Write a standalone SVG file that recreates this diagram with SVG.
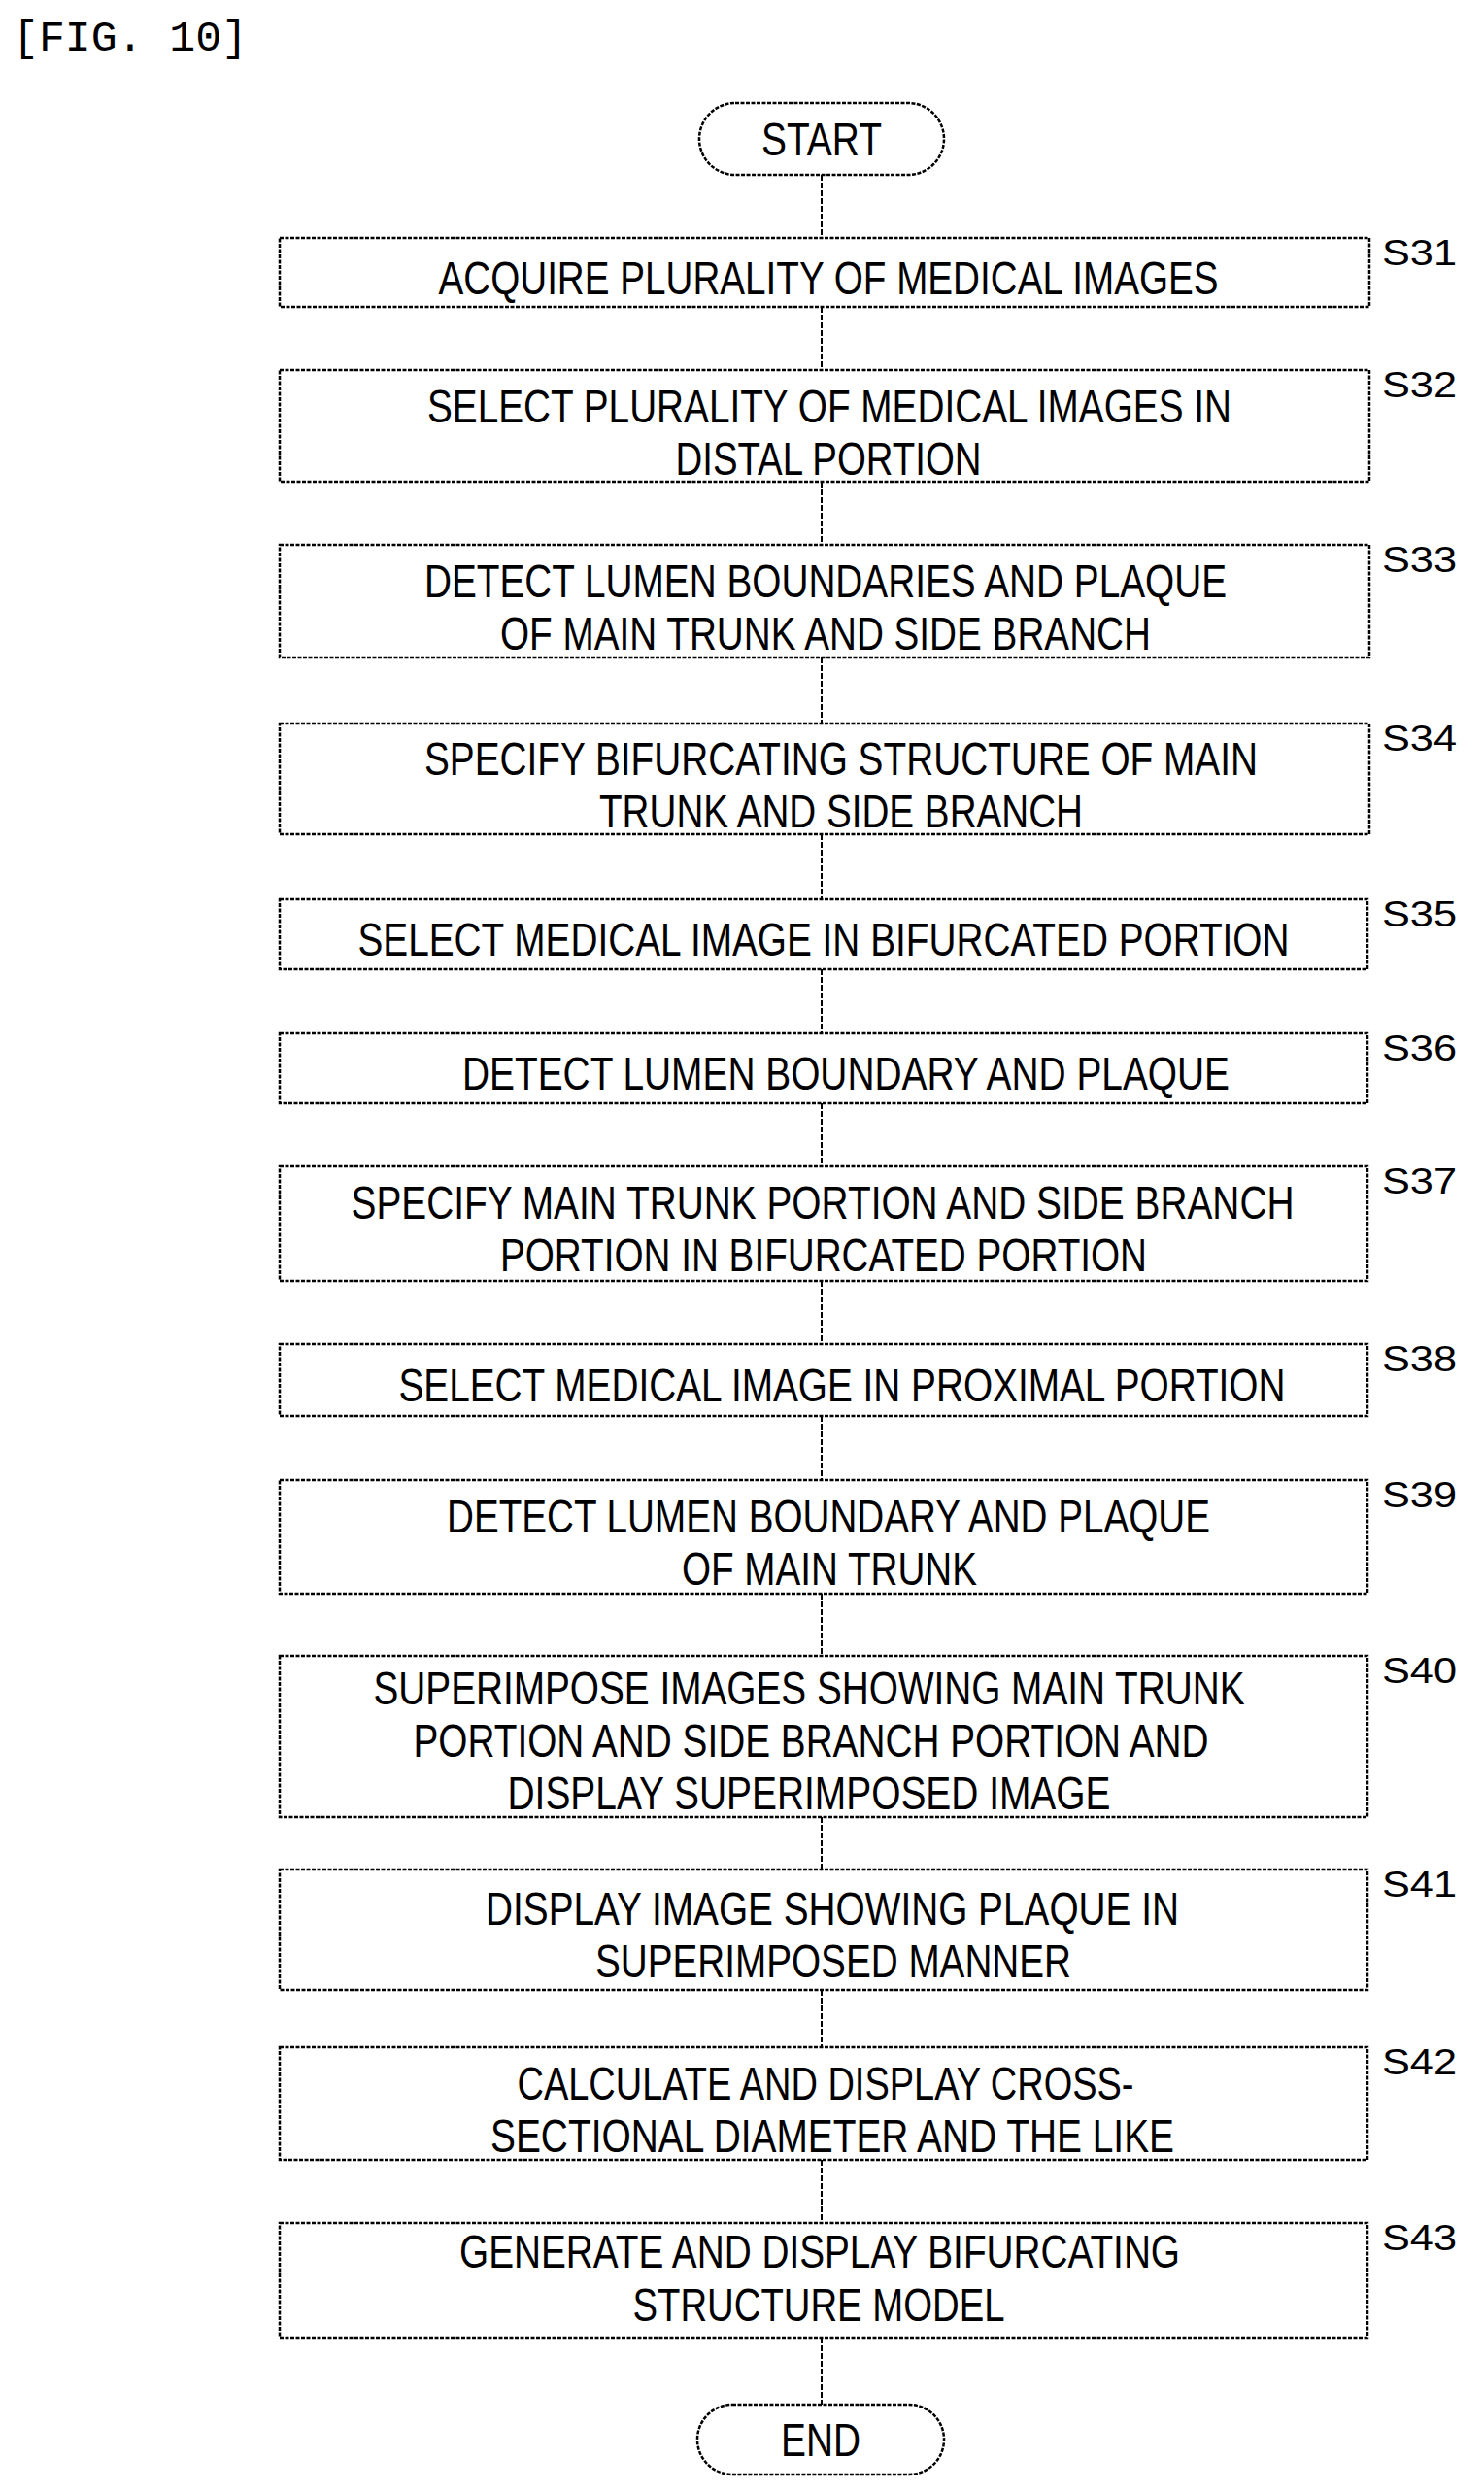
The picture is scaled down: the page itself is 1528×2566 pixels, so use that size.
<svg xmlns="http://www.w3.org/2000/svg" width="1528" height="2566" viewBox="0 0 1528 2566">
<style>
.b{fill:#fff;stroke:#000;stroke-width:2.5;stroke-dasharray:4 1.5}
.t{font-family:"Liberation Sans",Arial,sans-serif;font-size:48px;text-anchor:middle;fill:#000}
.l{font-family:"Liberation Sans",Arial,sans-serif;font-size:36px;fill:#000}
.c{stroke:#000;stroke-width:2;stroke-dasharray:6 2;fill:none}
</style>
<rect width="1528" height="2566" fill="#fff"/>
<text x="13" y="52" font-family="Liberation Mono,monospace" font-size="44" textLength="242" lengthAdjust="spacingAndGlyphs">[FIG. 10]</text>
<g id="connectors">
<line class="c" x1="846" y1="180" x2="846" y2="245"/>
<line class="c" x1="846" y1="316" x2="846" y2="381"/>
<line class="c" x1="846" y1="496" x2="846" y2="561"/>
<line class="c" x1="846" y1="677" x2="846" y2="745"/>
<line class="c" x1="846" y1="859" x2="846" y2="926"/>
<line class="c" x1="846" y1="998" x2="846" y2="1064"/>
<line class="c" x1="846" y1="1136" x2="846" y2="1201"/>
<line class="c" x1="846" y1="1319" x2="846" y2="1384"/>
<line class="c" x1="846" y1="1458" x2="846" y2="1524"/>
<line class="c" x1="846" y1="1641" x2="846" y2="1705"/>
<line class="c" x1="846" y1="1871" x2="846" y2="1925"/>
<line class="c" x1="846" y1="2049" x2="846" y2="2108"/>
<line class="c" x1="846" y1="2224" x2="846" y2="2289"/>
<line class="c" x1="846" y1="2407" x2="846" y2="2476"/>
</g>
<g id="start"><rect class="b" x="720" y="106" width="252" height="74" rx="37"/><text class="t" x="846" y="160" textLength="124" lengthAdjust="spacingAndGlyphs">START</text></g>
<g id="s31"><rect class="b" x="288" y="245" width="1122" height="71"/><text class="t" x="853" y="303" textLength="803" lengthAdjust="spacingAndGlyphs">ACQUIRE PLURALITY OF MEDICAL IMAGES</text><text class="l" x="1423" y="273" textLength="77" lengthAdjust="spacingAndGlyphs">S31</text></g>
<g id="s32"><rect class="b" x="288" y="381" width="1122" height="115"/><text class="t" x="854" y="435" textLength="828" lengthAdjust="spacingAndGlyphs">SELECT PLURALITY OF MEDICAL IMAGES IN</text><text class="t" x="853" y="489" textLength="315" lengthAdjust="spacingAndGlyphs">DISTAL PORTION</text><text class="l" x="1423" y="409" textLength="77" lengthAdjust="spacingAndGlyphs">S32</text></g>
<g id="s33"><rect class="b" x="288" y="561" width="1122" height="116"/><text class="t" x="850" y="615" textLength="826" lengthAdjust="spacingAndGlyphs">DETECT LUMEN BOUNDARIES AND PLAQUE</text><text class="t" x="850" y="669" textLength="670" lengthAdjust="spacingAndGlyphs">OF MAIN TRUNK AND SIDE BRANCH</text><text class="l" x="1423" y="589" textLength="77" lengthAdjust="spacingAndGlyphs">S33</text></g>
<g id="s34"><rect class="b" x="288" y="745" width="1122" height="114"/><text class="t" x="866" y="798" textLength="858" lengthAdjust="spacingAndGlyphs">SPECIFY BIFURCATING STRUCTURE OF MAIN</text><text class="t" x="866" y="852" textLength="498" lengthAdjust="spacingAndGlyphs">TRUNK AND SIDE BRANCH</text><text class="l" x="1423" y="773" textLength="77" lengthAdjust="spacingAndGlyphs">S34</text></g>
<g id="s35"><rect class="b" x="288" y="926" width="1120" height="72"/><text class="t" x="848" y="984" textLength="959" lengthAdjust="spacingAndGlyphs">SELECT MEDICAL IMAGE IN BIFURCATED PORTION</text><text class="l" x="1423" y="954" textLength="77" lengthAdjust="spacingAndGlyphs">S35</text></g>
<g id="s36"><rect class="b" x="288" y="1064" width="1120" height="72"/><text class="t" x="871" y="1122" textLength="790" lengthAdjust="spacingAndGlyphs">DETECT LUMEN BOUNDARY AND PLAQUE</text><text class="l" x="1423" y="1092" textLength="77" lengthAdjust="spacingAndGlyphs">S36</text></g>
<g id="s37"><rect class="b" x="288" y="1201" width="1120" height="118"/><text class="t" x="847" y="1255" textLength="971" lengthAdjust="spacingAndGlyphs">SPECIFY MAIN TRUNK PORTION AND SIDE BRANCH</text><text class="t" x="848" y="1309" textLength="666" lengthAdjust="spacingAndGlyphs">PORTION IN BIFURCATED PORTION</text><text class="l" x="1423" y="1229" textLength="77" lengthAdjust="spacingAndGlyphs">S37</text></g>
<g id="s38"><rect class="b" x="288" y="1384" width="1120" height="74"/><text class="t" x="867" y="1443" textLength="913" lengthAdjust="spacingAndGlyphs">SELECT MEDICAL IMAGE IN PROXIMAL PORTION</text><text class="l" x="1423" y="1412" textLength="77" lengthAdjust="spacingAndGlyphs">S38</text></g>
<g id="s39"><rect class="b" x="288" y="1524" width="1120" height="117"/><text class="t" x="853" y="1578" textLength="786" lengthAdjust="spacingAndGlyphs">DETECT LUMEN BOUNDARY AND PLAQUE</text><text class="t" x="854" y="1632" textLength="304" lengthAdjust="spacingAndGlyphs">OF MAIN TRUNK</text><text class="l" x="1423" y="1552" textLength="77" lengthAdjust="spacingAndGlyphs">S39</text></g>
<g id="s40"><rect class="b" x="288" y="1705" width="1120" height="166"/><text class="t" x="833" y="1755" textLength="897" lengthAdjust="spacingAndGlyphs">SUPERIMPOSE IMAGES SHOWING MAIN TRUNK</text><text class="t" x="835" y="1809" textLength="819" lengthAdjust="spacingAndGlyphs">PORTION AND SIDE BRANCH PORTION AND</text><text class="t" x="833" y="1863" textLength="621" lengthAdjust="spacingAndGlyphs">DISPLAY SUPERIMPOSED IMAGE</text><text class="l" x="1423" y="1733" textLength="77" lengthAdjust="spacingAndGlyphs">S40</text></g>
<g id="s41"><rect class="b" x="288" y="1925" width="1120" height="124"/><text class="t" x="857" y="1982" textLength="714" lengthAdjust="spacingAndGlyphs">DISPLAY IMAGE SHOWING PLAQUE IN</text><text class="t" x="858" y="2036" textLength="490" lengthAdjust="spacingAndGlyphs">SUPERIMPOSED MANNER</text><text class="l" x="1423" y="1953" textLength="77" lengthAdjust="spacingAndGlyphs">S41</text></g>
<g id="s42"><rect class="b" x="288" y="2108" width="1120" height="116"/><text class="t" x="850" y="2162" textLength="635" lengthAdjust="spacingAndGlyphs">CALCULATE AND DISPLAY CROSS-</text><text class="t" x="857" y="2216" textLength="704" lengthAdjust="spacingAndGlyphs">SECTIONAL DIAMETER AND THE LIKE</text><text class="l" x="1423" y="2136" textLength="77" lengthAdjust="spacingAndGlyphs">S42</text></g>
<g id="s43"><rect class="b" x="288" y="2289" width="1120" height="118"/><text class="t" x="844" y="2335" textLength="742" lengthAdjust="spacingAndGlyphs">GENERATE AND DISPLAY BIFURCATING</text><text class="t" x="843" y="2390" textLength="383" lengthAdjust="spacingAndGlyphs">STRUCTURE MODEL</text><text class="l" x="1423" y="2317" textLength="77" lengthAdjust="spacingAndGlyphs">S43</text></g>
<g id="end"><rect class="b" x="718" y="2476" width="254" height="72" rx="36"/><text class="t" x="845" y="2529" textLength="82" lengthAdjust="spacingAndGlyphs">END</text></g>
</svg>
